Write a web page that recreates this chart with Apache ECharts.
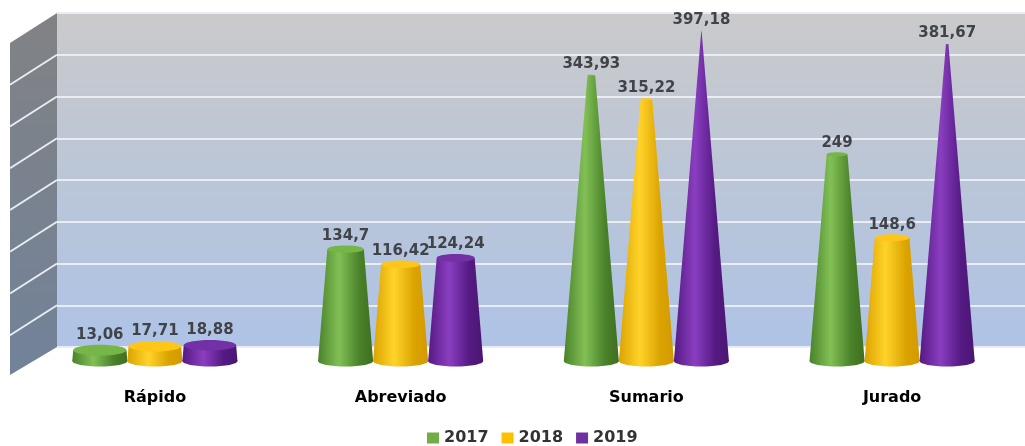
<!DOCTYPE html>
<html>
<head>
<meta charset="utf-8">
<script src="https://cdn.jsdelivr.net/npm/echarts@6/dist/echarts.min.js"></script>
<style>
  html, body { margin: 0; padding: 0; background: #ffffff; }
  #chart { width: 1025px; height: 446px; }
</style>
</head>
<body>
<div id="chart"></div>
<script>
// Procedure types and yearly values
const categories = ['Rápido', 'Abreviado', 'Sumario', 'Jurado'];
const years = ['2017', '2018', '2019'];
const values2017 = [13.06, 134.7, 343.93, 249];
const values2018 = [17.71, 116.42, 315.22, 148.6];
const values2019 = [18.88, 124.24, 397.18, 381.67];
const wallTicks = [0, 50, 100, 150, 200, 250, 300, 350, 400];

const AXIS_MAX = 400;
const FONT = 'DejaVu Sans, Verdana, sans-serif';

// Shading for each year's cones: edge, highlight, edge, top cap
const palettes = [
  { dark: '#4a822a', light: '#82c055', edge: '#3f6f20', cap: '#76b548', legend: '#70ad47' },
  { dark: '#dba300', light: '#ffd32a', edge: '#d29a00', cap: '#ffc61a', legend: '#ffc000' },
  { dark: '#551a83', light: '#8a3ec0', edge: '#4a1672', cap: '#7431a6', legend: '#7030a0' }
];

function fmt(v) { return String(v).replace('.', ','); }

// Truncated cone: full cone height corresponds to the axis maximum
function coneRenderer(seriesPos, pal) {
  return function (params, api) {
    const cat = api.value(0);
    const val = api.value(1);
    const base = api.coord([cat, 0]);
    const top = api.coord([cat, val]);
    const band = api.size([1, 0])[0];
    const w = band * 0.224;
    const cx = base[0] + (seriesPos - 1) * w;
    const r0 = w / 2;
    const rt = r0 * (1 - val / AXIS_MAX);
    const yb = base[1];
    const yt = top[1];
    const k = 0.2;
    const fill = new echarts.graphic.LinearGradient(0, 0, 1, 0, [
      { offset: 0, color: pal.dark },
      { offset: 0.38, color: pal.light },
      { offset: 0.75, color: pal.dark },
      { offset: 1, color: pal.edge }
    ]);
    const children = [
      { type: 'ellipse', shape: { cx: cx, cy: yb, rx: r0, ry: r0 * k }, style: { fill: fill } },
      { type: 'polygon', shape: { points: [[cx - r0, yb], [cx - rt, yt], [cx + rt, yt], [cx + r0, yb]] }, style: { fill: fill } }
    ];
    if (rt > 0.5) {
      children.push({ type: 'ellipse', shape: { cx: cx, cy: yt, rx: rt, ry: rt * k }, style: { fill: pal.cap } });
    }
    children.push({
      type: 'text',
      style: {
        text: fmt(val), x: cx, y: yt - Math.max(rt * k, 2) - 2,
        align: 'center', verticalAlign: 'bottom',
        font: 'bold 15px ' + FONT, fill: '#404347'
      }
    });
    return { type: 'group', children: children };
  };
}

// Left side wall of the 3D box, with its diagonal grid lines
const DEPTH_X = -47, DEPTH_Y = 28;
function sideWallRenderer(params, api) {
  const v = api.value(0);
  const p = api.coord([0, v]);
  const children = [];
  if (params.dataIndex === 0) {
    const t = api.coord([0, AXIS_MAX]);
    children.push({
      type: 'polygon',
      shape: { points: [[t[0], t[1]], [p[0], p[1]], [p[0] + DEPTH_X, p[1] + DEPTH_Y], [t[0] + DEPTH_X, t[1] + 30]] },
      style: {
        fill: new echarts.graphic.LinearGradient(0, 0, 0, 1, [
          { offset: 0, color: '#818284' },
          { offset: 1, color: '#72829a' }
        ])
      },
      z2: 0
    });
  }
  if (v > 0 && v < AXIS_MAX) {
    children.push({
      type: 'line',
      shape: { x1: p[0], y1: p[1], x2: p[0] + DEPTH_X, y2: p[1] + 30 },
      style: { stroke: '#e9edf3', lineWidth: 2 },
      z2: 1
    });
  }
  return { type: 'group', children: children };
}

const yearData = [values2017, values2018, values2019];

const chart = echarts.init(document.getElementById('chart'), null, { renderer: 'canvas' });
chart.setOption({
  backgroundColor: '#ffffff',
  animation: false,
  textStyle: { fontFamily: FONT },
  grid: [
    {
      // back wall
      left: 57, right: 0, top: 13, bottom: 99,
      show: true, borderWidth: 0,
      backgroundColor: new echarts.graphic.LinearGradient(0, 0, 0, 1, [
        { offset: 0, color: '#cacacb' },
        { offset: 0.45, color: '#bcc6d6' },
        { offset: 1, color: '#aec3e6' }
      ])
    },
    {
      // cones plane
      left: 32, right: 10, top: 29, bottom: 85
    }
  ],
  xAxis: [
    { gridIndex: 0, type: 'value', min: 0, max: 1, show: false },
    {
      gridIndex: 1, type: 'category', data: categories,
      axisLine: { show: false }, axisTick: { show: false },
      axisLabel: { margin: 29, fontSize: 16, fontWeight: 'bold', color: '#000000', fontFamily: FONT }
    }
  ],
  yAxis: [
    {
      gridIndex: 0, type: 'value', min: 0, max: AXIS_MAX, interval: 50,
      axisLine: { show: false }, axisTick: { show: false }, axisLabel: { show: false },
      splitLine: { show: true, lineStyle: { color: '#e9edf3', width: 2 } }
    },
    { gridIndex: 1, type: 'value', min: 0, max: AXIS_MAX, show: false }
  ],
  legend: {
    data: years,
    top: 425, left: 422,
    icon: 'rect', itemWidth: 12, itemHeight: 11, itemGap: 13,
    textStyle: { fontSize: 16, fontWeight: 'bold', color: '#333333', fontFamily: FONT }
  },
  series: [
    {
      type: 'custom', name: 'wall', xAxisIndex: 0, yAxisIndex: 0,
      data: wallTicks.map(v => [v]),
      encode: { y: 0 },
      renderItem: sideWallRenderer, silent: true, z: 1
    }
  ].concat(years.map((y, i) => ({
    type: 'custom',
    name: y,
    xAxisIndex: 1, yAxisIndex: 1,
    itemStyle: { color: palettes[i].legend },
    data: yearData[i].map((v, c) => [c, v]),
    encode: { x: 0, y: 1 },
    renderItem: coneRenderer(i, palettes[i]),
    z: 3
  })))
});
</script>
</body>
</html>
